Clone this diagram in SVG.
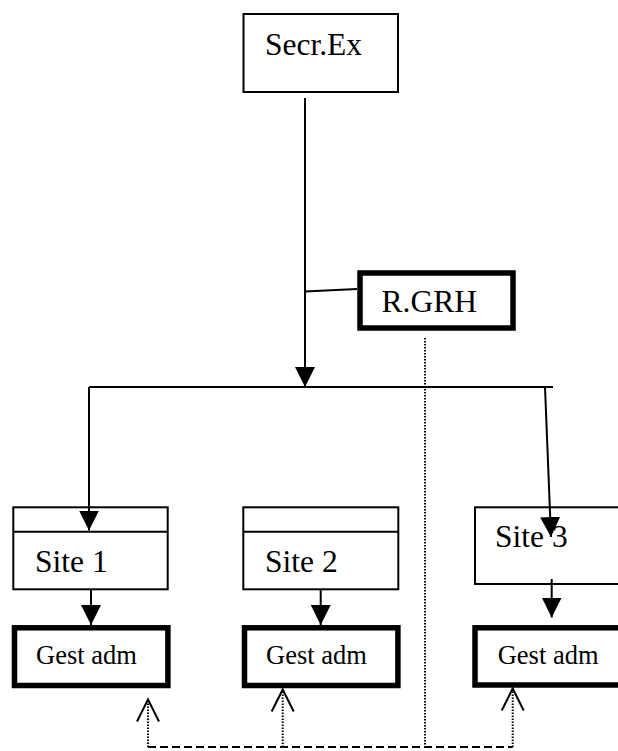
<svg xmlns="http://www.w3.org/2000/svg" width="618" height="751" viewBox="0 0 618 751">
<style>
  .box { fill: #fff; stroke: #000; stroke-width: 2; }
  .thick { fill: #fff; stroke: #000; stroke-width: 5.5; }
  .lbl { font-family: "Liberation Serif", "Times New Roman", serif; font-size: 31.5px; fill: #000; }
  .small { font-family: "Liberation Serif", "Times New Roman", serif; font-size: 26.5px; fill: #000; }
  .ln { stroke: #000; stroke-width: 2; fill: none; }
  .arr { marker-end: url(#ah); }
  .dot { stroke: #000; stroke-width: 2; stroke-dasharray: 1.5 1.5; fill: none; }
  .dash { stroke: #000; stroke-width: 2; stroke-dasharray: 8 4; fill: none; }
  .oarr { marker-end: url(#oh); }
</style>
<defs>
  <marker id="ah" markerUnits="userSpaceOnUse" markerWidth="20" markerHeight="20" viewBox="0 0 20 20" refX="20" refY="10" orient="auto">
    <path d="M0,0 L20,10 L0,20 z" fill="#000"/>
  </marker>
  <marker id="oh" markerUnits="userSpaceOnUse" markerWidth="26" markerHeight="26" viewBox="-2 -2 26 26" refX="22" refY="11" orient="auto" overflow="visible">
    <path d="M0,0 L22,11 L0,22" fill="none" stroke="#000" stroke-width="2"/>
  </marker>
</defs>

<g id="secr-ex">
  <rect class="box" x="243.5" y="14" width="154.5" height="78"/>
  <text class="lbl" x="265" y="55">Secr.Ex</text>
</g>

<g id="r-grh">
  <rect class="thick" x="360" y="273" width="153" height="55"/>
  <text class="lbl" x="381.5" y="311.5">R.GRH</text>
</g>

<g id="site1">
  <rect class="box" x="13.3" y="507.3" width="154.4" height="82"/>
  <line class="ln" x1="13.3" y1="531.7" x2="167.7" y2="531.7"/>
  <text class="lbl" x="35" y="571.7">Site 1</text>
</g>

<g id="site2">
  <rect class="box" x="243.3" y="507.3" width="155" height="82"/>
  <line class="ln" x1="243.3" y1="531.7" x2="398.3" y2="531.7"/>
  <text class="lbl" x="265" y="571.7">Site 2</text>
</g>

<g id="site3">
  <rect class="box" x="475" y="507.3" width="160" height="76.7"/>
  <text class="lbl" x="495" y="546.7">Site 3</text>
</g>

<g id="gest1">
  <rect class="thick" x="14.5" y="627.8" width="153.4" height="57.7"/>
  <text class="small" x="36" y="664.3">Gest adm</text>
</g>
<g id="gest2">
  <rect class="thick" x="244.5" y="627.8" width="153.4" height="57.7"/>
  <text class="small" x="266" y="664.3">Gest adm</text>
</g>
<g id="gest3">
  <rect class="thick" x="475" y="627.8" width="200" height="57.2"/>
  <text class="small" x="497.7" y="664.3">Gest adm</text>
</g>

<g id="connectors">
  <line class="ln arr" x1="305" y1="98" x2="305" y2="387"/>
  <line class="ln" x1="305" y1="291.5" x2="357" y2="289"/>
  <line class="ln" x1="89" y1="387" x2="553" y2="387"/>
  <line class="ln arr" x1="89" y1="387" x2="89" y2="530.5"/>
  <line class="ln arr" x1="545" y1="387" x2="551" y2="537"/>
  <line class="ln arr" x1="91" y1="590" x2="91" y2="625"/>
  <line class="ln arr" x1="320.7" y1="590" x2="320.7" y2="625"/>
  <line class="ln arr" x1="551.7" y1="579" x2="551.7" y2="617.5"/>
  <line class="dot" x1="425" y1="338" x2="425" y2="747"/>
  <polyline class="dash" points="148,747 512.7,747"/>
  <line class="dot oarr" x1="148" y1="747" x2="148" y2="699.5"/>
  <line class="dot oarr" x1="282.7" y1="747" x2="282.7" y2="689.5"/>
  <line class="dot oarr" x1="512.7" y1="747" x2="512.7" y2="688.5"/>
</g>
</svg>
